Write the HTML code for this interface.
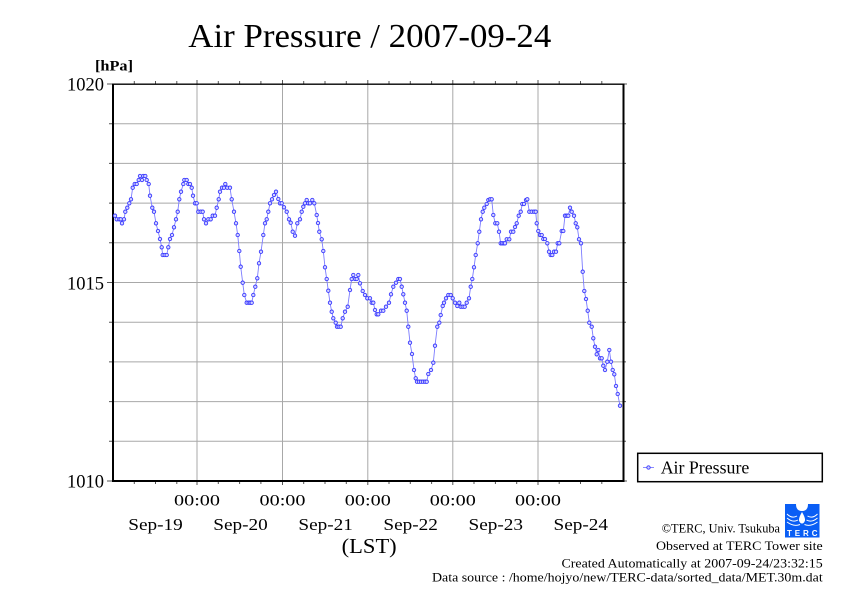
<!DOCTYPE html>
<html><head><meta charset="utf-8"><style>
html,body{margin:0;padding:0;background:#fff;}
svg{display:block;}
text{font-family:"Liberation Serif",serif;fill:#000;}
</style></head><body>
<svg width="842" height="595" viewBox="0 0 842 595" xmlns="http://www.w3.org/2000/svg">
<defs>
<marker id="m" markerUnits="userSpaceOnUse" markerWidth="6" markerHeight="6" refX="3" refY="3" viewBox="0 0 6 6">
<circle cx="3" cy="3" r="1.7" fill="#d4d4ff" stroke="#3a3aff" stroke-width="0.9"/>
</marker>
</defs>
<rect width="842" height="595" fill="#fff"/>
<text x="188.3" y="47" font-size="34" textLength="363" lengthAdjust="spacingAndGlyphs">Air Pressure / 2007-09-24</text>
<text x="95" y="70.7" font-size="15" font-weight="bold" textLength="38" lengthAdjust="spacingAndGlyphs">[hPa]</text>
<!-- grid -->
<g stroke="#a8a8a8" stroke-width="1">
<line x1="113" y1="123.7" x2="623" y2="123.7"/>
<line x1="113" y1="163.4" x2="623" y2="163.4"/>
<line x1="113" y1="203.1" x2="623" y2="203.1"/>
<line x1="113" y1="242.8" x2="623" y2="242.8"/>
<line x1="113" y1="282.5" x2="623" y2="282.5"/>
<line x1="113" y1="322.2" x2="623" y2="322.2"/>
<line x1="113" y1="361.9" x2="623" y2="361.9"/>
<line x1="113" y1="401.6" x2="623" y2="401.6"/>
<line x1="113" y1="441.3" x2="623" y2="441.3"/>
<line x1="197" y1="84" x2="197" y2="481"/>
<line x1="282.5" y1="84" x2="282.5" y2="481"/>
<line x1="367.8" y1="84" x2="367.8" y2="481"/>
<line x1="452.8" y1="84" x2="452.8" y2="481"/>
<line x1="538" y1="84" x2="538" y2="481"/>
</g>
<!-- ticks -->
<g stroke="#555" stroke-width="1">
<path d="M134.3 84v-3M155.5 84v-3M176.8 84v-3M197 84v-4M218.3 84v-3M239.6 84v-3M260.9 84v-3M282.5 84v-4M303.7 84v-3M325 84v-3M346.3 84v-3M367.8 84v-4M389 84v-3M410.3 84v-3M431.6 84v-3M452.8 84v-4M474 84v-3M495.4 84v-3M516.7 84v-3M538 84v-4M559.2 84v-3M580.5 84v-3M601.8 84v-3"/>
<path d="M134.3 481v3M155.5 481v3M176.8 481v3M197 481v4M218.3 481v3M239.6 481v3M260.9 481v3M282.5 481v4M303.7 481v3M325 481v3M346.3 481v3M367.8 481v4M389 481v3M410.3 481v3M431.6 481v3M452.8 481v4M474 481v3M495.4 481v3M516.7 481v3M538 481v4M559.2 481v3M580.5 481v3M601.8 481v3"/>
<path d="M107 84h6M109 123.7h4M109 163.4h4M109 203.1h4M109 242.8h4M107 282.5h6M109 322.2h4M109 361.9h4M109 401.6h4M109 441.3h4M107 481h6"/>
<path d="M623 84h4M623 123.7h3M623 163.4h3M623 203.1h3M623 242.8h3M623 282.5h4M623 322.2h3M623 361.9h3M623 401.6h3M623 441.3h3M623 481h4"/>
</g>
<!-- axes frame -->
<line x1="112" y1="84.2" x2="624.5" y2="84.2" stroke="#000" stroke-width="1.4"/>
<line x1="113" y1="83.5" x2="113" y2="482" stroke="#000" stroke-width="2"/>
<line x1="112" y1="481" x2="624.5" y2="481" stroke="#000" stroke-width="2"/>
<line x1="623.5" y1="83.5" x2="623.5" y2="482" stroke="#000" stroke-width="2"/>
<!-- y labels -->
<text x="104" y="90.6" font-size="19" text-anchor="end" textLength="37" lengthAdjust="spacingAndGlyphs">1020</text>
<text x="104" y="289.3" font-size="19" text-anchor="end" textLength="37" lengthAdjust="spacingAndGlyphs">1015</text>
<text x="104" y="487.5" font-size="19" text-anchor="end" textLength="37" lengthAdjust="spacingAndGlyphs">1010</text>
<!-- x labels -->
<g font-size="16">
<text x="174" y="505.7" textLength="46" lengthAdjust="spacingAndGlyphs">00:00</text>
<text x="259.5" y="505.7" textLength="46" lengthAdjust="spacingAndGlyphs">00:00</text>
<text x="344.8" y="505.7" textLength="46" lengthAdjust="spacingAndGlyphs">00:00</text>
<text x="429.8" y="505.7" textLength="46" lengthAdjust="spacingAndGlyphs">00:00</text>
<text x="515" y="505.7" textLength="46" lengthAdjust="spacingAndGlyphs">00:00</text>
</g>
<g font-size="17">
<text x="128.3" y="530" textLength="54.5" lengthAdjust="spacingAndGlyphs">Sep-19</text>
<text x="213.3" y="530" textLength="54.5" lengthAdjust="spacingAndGlyphs">Sep-20</text>
<text x="298.4" y="530" textLength="54.5" lengthAdjust="spacingAndGlyphs">Sep-21</text>
<text x="383.4" y="530" textLength="54.5" lengthAdjust="spacingAndGlyphs">Sep-22</text>
<text x="468.5" y="530" textLength="54.5" lengthAdjust="spacingAndGlyphs">Sep-23</text>
<text x="553.5" y="530" textLength="54.5" lengthAdjust="spacingAndGlyphs">Sep-24</text>
</g>
<text x="341.7" y="553" font-size="21" textLength="55" lengthAdjust="spacingAndGlyphs">(LST)</text>
<!-- series -->
<polyline fill="none" stroke="#7c7cff" stroke-width="0.9" marker-start="url(#m)" marker-mid="url(#m)" marker-end="url(#m)" points="115,215.7 116.7,219.3 119.3,219.3 120.7,219.3 122,223.3 124,219.3 125.3,211.7 127.3,207.7 129.3,203.3 131,199.3 132.7,187.7 134.7,184 136.7,184 138.7,180 140,176 142,180 143.3,176 145.3,176 146.7,180 148.7,184 150,195.7 152.3,207.7 154,211.7 156,223.3 158,231 160,239 161.7,247.3 162.7,255 164.7,255 166.7,255 168.3,247.3 170,239 172,235 174,227.3 176,219.3 177.7,211.7 179.3,199.3 181,191.7 183.3,184 184.3,180 186.7,180 188.3,184 190,184 191.7,187.7 193,195.7 195,203.3 196.7,203.3 198.3,211.7 200.7,211.7 202.7,211.7 204,219.3 206,223.3 208.3,219.3 210.7,219.3 212.7,215.7 215,215.7 216.7,207.7 218.7,199.3 220,191.7 222,187.7 224,187.7 225.3,184 227.3,187.7 230,187.7 231.7,199.3 234,211.7 236,223.3 237.7,235 239.3,251 240.7,266.7 242.7,282.7 244.3,295 246.7,302.7 248.7,302.7 250.3,302.7 251.7,302.7 253.3,295 255.3,286.7 257.3,278.3 259,263.3 261,251.7 263.3,235 265,223.3 266.7,219.3 268.3,211.7 270,203.3 272,199.3 274,195 276,191.7 278.3,199 280,203.3 281.7,203.3 284,207.3 286.7,211.7 289,219.3 290.7,222.7 292.7,231.7 295,235.7 297.3,223.3 300,219.3 301.7,211.7 303.3,206.7 305,203.3 306.7,200 308.3,203.3 310,203.3 312.3,200 314.3,203.3 316.7,215 318,223 319.3,231.7 321.7,239.3 323.3,251 325,267.3 326.7,279 328.3,290.7 330,302.7 331.7,311.7 333.3,318.3 335.7,322.7 337,326.7 338.7,326.7 340.7,326.7 342.7,318.3 345,311.7 347.7,306.7 350,290 351.7,279 353.3,275 355,279 356.7,279 358.3,275 360,283.3 362.7,291 365,295 367.3,298.3 370,298.3 371.7,302.7 373.3,302.7 375,310 376.7,314.3 378.3,314.3 381,310.7 383.3,310.7 386,306.7 389,302.7 391,294.3 393.3,286.7 396,282.7 398.3,279 400,279 401.7,286.7 403.3,294.3 405,302.7 406.7,310.7 408.3,326.7 410,342.7 412,354 414,370 415.7,378.3 417,381.7 419,381.7 421,381.7 423,381.7 425,381.7 426.7,381.7 428.3,374 431,370 433.3,362.7 435,345.7 437.3,326.7 439.3,322.7 440.7,315 442.7,306 444,302.7 446,298.3 448.3,295 450.7,295 452.7,298.3 455,302.7 457.3,306 459.3,302.7 460.7,306.7 462.7,306.7 464.7,306.7 466.7,302.7 469,298.3 470.7,286.7 472.3,279 474,267.3 475.7,255 477.7,243.3 479.3,231.7 481,219.3 482.7,211.7 484.3,207.7 486.7,204 488.3,200 490,199.3 491.7,199.3 493.3,215 495.3,223.3 497.3,223.3 499,231.7 500.7,243.3 502.2,243.3 503.7,243.3 505,243.3 506.7,239.3 509.3,239.3 511,231.7 513.3,231.7 515,227 516.7,223.3 518.7,215.7 520.7,211.7 522.3,204 524,204 526,200 527.3,199.3 529.3,211.7 531.7,211.7 534,211.7 535.7,211.7 536.7,223.3 538.3,231 540,235 541.7,235 543.3,239 545,239 547.3,243.3 549,251.7 550.7,255 552.3,255 554,251.7 556,251.7 557.7,243.3 559.3,243.3 561.7,231 563.3,231 565,215.7 566.7,215.7 568.3,215.7 570,207.7 571.7,211.7 574,215.7 575.7,223.3 577.3,227.3 579,239.3 581,243.3 582.7,271.7 584.3,291 586,299 587.7,310.7 589.3,322.7 591.7,326.7 593.3,338.3 595,346.7 596.7,354.3 598.3,350 600,358.3 601.7,358.3 603.3,365.7 605,370 607.3,361.7 609.3,350 611,361.7 612.7,370 614.3,374.3 616,386 617.7,394 620,405.7"/>
<!-- legend -->
<rect x="637.7" y="453.3" width="184.6" height="28.4" fill="#fff" stroke="#000" stroke-width="1.5"/>
<polyline fill="none" stroke="#7c7cff" stroke-width="0.9" marker-mid="url(#m)" points="643,467.5 648.5,467.5 654,467.5"/>
<text x="660.7" y="473.3" font-size="18" textLength="88.6" lengthAdjust="spacingAndGlyphs">Air Pressure</text>
<!-- credits -->
<g font-size="12.5">
<text x="661.7" y="532.7" textLength="118.3" lengthAdjust="spacingAndGlyphs">©TERC, Univ. Tsukuba</text>
<text x="656" y="550" textLength="166.7" lengthAdjust="spacingAndGlyphs">Observed at TERC Tower site</text>
<text x="561.5" y="567.3" textLength="261.2" lengthAdjust="spacingAndGlyphs">Created Automatically at 2007-09-24/23:32:15</text>
<text x="432" y="581.7" textLength="390.7" lengthAdjust="spacingAndGlyphs">Data source : /home/hojyo/new/TERC-data/sorted_data/MET.30m.dat</text>
</g>
<!-- logo -->
<g>
<rect x="785" y="504" width="34.5" height="33.5" fill="#0a5ef5"/>
<path d="M796 504 Q796 511 802 511 Q808 511 808 504 Z" fill="#fff"/>
<path d="M802 512 Q798.5 518 799 520.5 Q800 523.5 802 523.5 Q804 523.5 805 520.5 Q805.5 518 802 512 Z" fill="#fff"/>
<path d="M787 514 Q792 519 797 516" fill="none" stroke="#fff" stroke-width="1"/>
<path d="M787 518 Q793 523 798 520" fill="none" stroke="#fff" stroke-width="1"/>
<path d="M787 522 Q794 527 800 524.5" fill="none" stroke="#fff" stroke-width="1"/>
<path d="M817.5 514 Q812.5 519 807.5 516" fill="none" stroke="#fff" stroke-width="1"/>
<path d="M817.5 518 Q811.5 523 806.5 520" fill="none" stroke="#fff" stroke-width="1"/>
<path d="M817.5 522 Q810.5 527 804.5 524.5" fill="none" stroke="#fff" stroke-width="1"/>
<text x="787" y="536" font-size="8" font-weight="bold" style="fill:#fff;font-family:'Liberation Sans',sans-serif" textLength="30.5" lengthAdjust="spacing">TERC</text>
</g>
</svg>
</body></html>
